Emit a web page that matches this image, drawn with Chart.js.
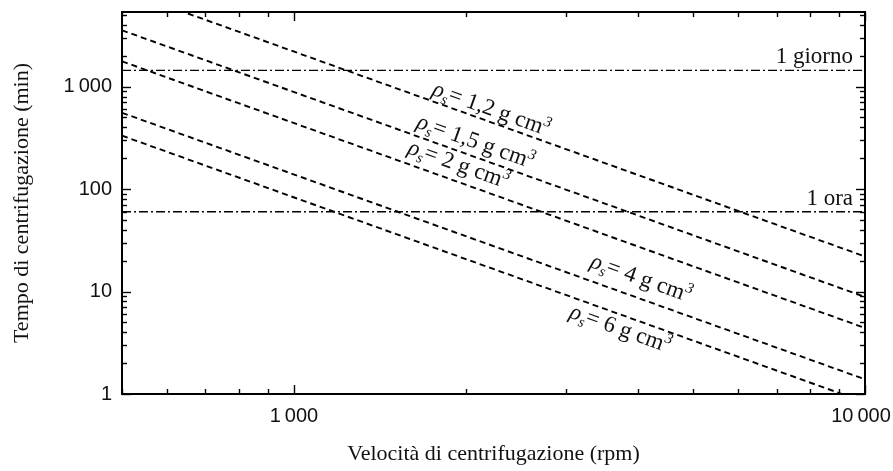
<!DOCTYPE html>
<html>
<head>
<meta charset="utf-8">
<script src="https://cdn.jsdelivr.net/npm/chart.js@4.4.0/dist/chart.umd.min.js"></script>
<style>
  html, body { margin: 0; padding: 0; background: #fff; }
  #wrap { width: 893px; height: 471px; }
</style>
</head>
<body>
<div id="wrap"><canvas id="chart"></canvas></div>
<script>
// velocità (rpm) agli estremi delle rette
const rpm = [500, 10000];
// tempo (min) letto agli estremi, per densità della particella
const rho12 = [8800, 22];
const rho15 = [3544, 8.86];
const rho2 = [1765, 4.41];
const rho4 = [555, 1.39];
const rho6 = [332, 0.83];
// riferimenti orizzontali
const oneDay = [1440, 1440];
const oneHour = [60, 60];
// etichette degli assi
const xTicks = [1000, 10000];
const yTicks = [1, 10, 100, 1000];

const fmt = v => v >= 1000 ? String(v).replace(/(\d)(?=(\d{3})+$)/g, '$1\u2009') : String(v);
const pts = ys => rpm.map((x, i) => ({ x, y: ys[i] }));

// etichette sulle rette: ancoraggio in rpm, distanza dalla retta in px
const curveLabels = [
  { idx: 0, val: '1,2', at: 2180, off: 13 },
  { idx: 1, val: '1,5', at: 2040, off: 15 },
  { idx: 2, val: '2', at: 1900, off: 17 },
  { idx: 3, val: '4', at: 3950, off: 20 },
  { idx: 4, val: '6', at: 3800, off: -13 }
];
const refLabels = [
  { idx: 5, text: '1 giorno' },
  { idx: 6, text: '1 ora' }
];

const serif = '"Liberation Serif", "DejaVu Serif", serif';

const dashed = (label, ys) => ({
  label, data: pts(ys), borderColor: '#000', borderWidth: 1.9,
  borderDash: [6, 4], pointRadius: 0, fill: false, tension: 0
});
const dashDot = (label, ys) => ({
  label, data: pts(ys), borderColor: '#000', borderWidth: 1.4,
  borderDash: [9, 3, 2, 3], pointRadius: 0, fill: false, tension: 0
});

const annotations = {
  id: 'annotations',
  afterDatasetsDraw(chart) {
    const { ctx, chartArea: a } = chart;
    ctx.save();
    ctx.fillStyle = '#111';
    ctx.textBaseline = 'alphabetic';

    curveLabels.forEach(l => {
      const meta = chart.getDatasetMeta(l.idx);
      const p0 = meta.data[0], p1 = meta.data[1];
      const ang = Math.atan2(p1.y - p0.y, p1.x - p0.x);
      const px = chart.scales.x.getPixelForValue(l.at);
      const f = (px - p0.x) / (p1.x - p0.x);
      const py = p0.y + f * (p1.y - p0.y);
      const parts = [
        { t: 'ρ', font: 'italic 23px ' + serif, dy: 0 },
        { t: 's', font: 'italic 15px ' + serif, dy: 5 },
        { t: '= ' + l.val + ' g cm', font: '23px ' + serif, dy: 0 },
        { t: '3', font: 'italic 15px ' + serif, dy: -9 }
      ];
      let w = 0;
      parts.forEach(p => { ctx.font = p.font; p.w = ctx.measureText(p.t).width; w += p.w; });
      ctx.save();
      ctx.translate(px, py);
      ctx.rotate(ang);
      let x = -w / 2;
      const base = -l.off + 7;
      parts.forEach(p => {
        ctx.font = p.font;
        ctx.fillText(p.t, x, base + p.dy);
        x += p.w;
      });
      ctx.restore();
    });

    ctx.font = '23px ' + serif;
    ctx.textAlign = 'right';
    refLabels.forEach(l => {
      const meta = chart.getDatasetMeta(l.idx);
      const p1 = meta.data[1];
      ctx.fillText(l.text, a.right - 12, p1.y - 7);
    });
    ctx.restore();
  }
};

// riquadro con tacche interne su tutti e quattro i lati
const frame = {
  id: 'frame',
  afterDraw(chart) {
    const { ctx, chartArea: a, scales: { x, y } } = chart;
    const isInt = v => {
      const m = v / Math.pow(10, Math.floor(Math.log10(v) + 1e-9));
      return Math.abs(m - Math.round(m)) < 1e-6;
    };
    const isMajor = v => Math.abs(Math.log10(v) - Math.round(Math.log10(v))) < 1e-9;
    const seg = (x1, y1, x2, y2) => { ctx.beginPath(); ctx.moveTo(x1, y1); ctx.lineTo(x2, y2); ctx.stroke(); };
    ctx.save();
    ctx.strokeStyle = '#000';
    ctx.lineWidth = 1.4;
    x.ticks.forEach(t => {
      if (!isInt(t.value)) return;
      const px = Math.round(x.getPixelForValue(t.value)) + 0.5;
      const len = isMajor(t.value) ? 9 : 5;
      seg(px, a.bottom, px, a.bottom - len);
      seg(px, a.top, px, a.top + len);
    });
    y.ticks.forEach(t => {
      if (!isInt(t.value)) return;
      const py = Math.round(y.getPixelForValue(t.value)) + 0.5;
      const len = isMajor(t.value) ? 9 : 5;
      seg(a.left, py, a.left + len, py);
      seg(a.right, py, a.right - len, py);
    });
    ctx.lineWidth = 2;
    ctx.strokeRect(a.left, a.top, a.right - a.left, a.bottom - a.top);
    ctx.restore();
  }
};

new Chart(document.getElementById('chart'), {
  type: 'line',
  data: {
    datasets: [
      dashed('ρs = 1,2 g cm3', rho12),
      dashed('ρs = 1,5 g cm3', rho15),
      dashed('ρs = 2 g cm3', rho2),
      dashed('ρs = 4 g cm3', rho4),
      dashed('ρs = 6 g cm3', rho6),
      dashDot('1 giorno', oneDay),
      dashDot('1 ora', oneHour)
    ]
  },
  options: {
    responsive: true,
    maintainAspectRatio: false,
    animation: false,
    layout: { padding: { top: 12, right: 28, left: 0, bottom: 0 } },
    plugins: { legend: { display: false }, tooltip: { enabled: false } },
    scales: {
      x: {
        type: 'logarithmic',
        min: 500,
        max: 10000,
        grid: { display: false, drawTicks: false },
        border: { display: false },
        ticks: {
          autoSkip: false, maxRotation: 0, minRotation: 0, padding: 10,
          color: '#111',
          font: { family: '"Liberation Sans", Arial, sans-serif', size: 20 },
          callback: v => xTicks.includes(v) ? fmt(v) + (v === 10000 ? '\u2009\u2009' : '') : ''
        },
        title: {
          display: true, text: 'Velocità di centrifugazione (rpm)', color: '#111',
          font: { family: serif, size: 22 }, padding: { top: 0, bottom: 4 }
        },
        afterFit: s => { s.height = 77; s.paddingLeft = 0; s.paddingRight = 0; }
      },
      y: {
        type: 'logarithmic',
        min: 1,
        max: 5350,
        grid: { display: false, drawTicks: false },
        border: { display: false },
        ticks: {
          autoSkip: false, padding: 10,
          color: '#111',
          font: { family: '"Liberation Sans", Arial, sans-serif', size: 20 },
          callback: v => yTicks.includes(v) ? fmt(v) : ''
        },
        title: {
          display: true, text: 'Tempo di centrifugazione (min)', color: '#111',
          font: { family: serif, size: 22 }, padding: { top: 9, bottom: 0 }
        },
        afterFit: s => { s.width = 122; s.paddingTop = 0; s.paddingBottom = 0; }
      }
    }
  },
  plugins: [annotations, frame]
});
</script>
</body>
</html>
